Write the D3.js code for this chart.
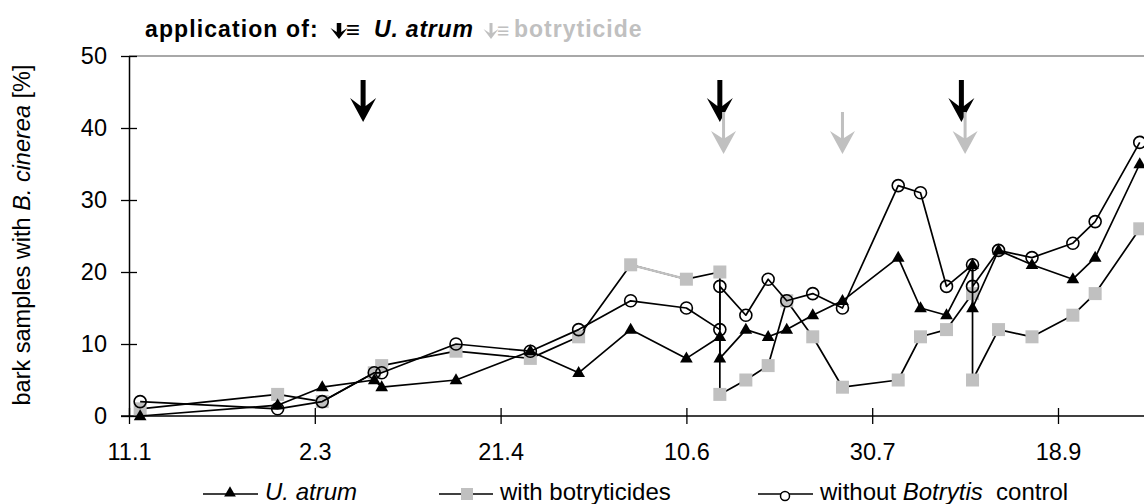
<!DOCTYPE html>
<html>
<head>
<meta charset="utf-8">
<script src="https://cdn.jsdelivr.net/npm/d3@7/dist/d3.min.js"></script>
<style>
  html, body { margin: 0; padding: 0; background: #fff; }
  svg { display: block; }
  text { font-family: "Liberation Sans", Arial, sans-serif; }
</style>
</head>
<body>
<svg id="chart" width="1144" height="504"></svg>
<script>
// Sampling dates (day.month, one season) – repeated dates carry two samples
const samplingDates = ["14.1","20.2","4.3","18.3","20.3","9.4","29.4","12.5","26.5","10.6",
  "19.6","19.6","26.6","2.7","7.7","14.7","22.7","6.8","12.8","19.8",
  "26.8","26.8","2.9","11.9","22.9","28.9","10.10"];

// Bark samples with B. cinerea [%]
const uAtrumValues       = [0,1.5,4,5,4,5,9,6,12,8, 11,8,12,11,12,14,16,22,15,14, 21,15,23,21,19,22,35];
const botryticideValues  = [1,3,2,6,7,9,8,11,21,19, 20,3,5,7,16,11,4,5,11,12, 17,5,12,11,14,17,26];
const controlValues      = [2,1,2,6,6,10,9,12,16,15, 12,18,14,19,16,17,15,32,31,18, 21,18,23,22,24,27,38];

// Segment of the botryticide line drawn in light grey (starts at this date)
const lightSegmentStart = "26.5";

// Application dates
const uAtrumApplications = ["15.3","19.6","23.8"];
const botryticideApplications = ["20.6","22.7","24.8"];

// Axis
const tickLabels = ["11.1","2.3","21.4","10.6","30.7","18.9"];
const yTicks = [0,10,20,30,40,50];

const YEAR = 2003;
const parseDate = s => d3.utcParse("%d.%m.%Y")(s + "." + YEAR);

const svg = d3.select("#chart");
const W = 1144, H = 504;

const x = d3.scaleUtc()
  .domain([parseDate("11.1"), parseDate("18.9")])
  .range([129, 1058]);
const y = d3.scaleLinear().domain([0, 50]).range([416, 56]);

const GREY = "#c0c0c0";
const font = "Liberation Sans, Arial, sans-serif";

// top frame line
svg.append("line")
  .attr("x1", 129).attr("x2", W).attr("y1", y(50)).attr("y2", y(50))
  .attr("stroke", "#a8a8a8").attr("stroke-width", 2);

// Y axis
const yAxis = svg.append("g")
  .attr("transform", `translate(${x(parseDate("11.1"))},0)`)
  .call(d3.axisLeft(y).tickValues(yTicks).tickSize(8).tickPadding(14).tickSizeOuter(0));
yAxis.select(".domain").attr("stroke", "#000").attr("stroke-width", 1.5);
yAxis.selectAll(".tick line").attr("x2", -8).attr("x1", 8).attr("stroke", "#000").attr("stroke-width", 1.3);
yAxis.selectAll(".tick text").attr("font-size", 23.5).attr("font-family", font).attr("fill", "#000");

// X axis
const xAxis = svg.append("g")
  .attr("transform", `translate(0,${y(0)})`)
  .call(d3.axisBottom(x).tickValues(tickLabels.map(parseDate))
    .tickFormat((d, i) => tickLabels[i]).tickSize(8).tickPadding(19).tickSizeOuter(0));
xAxis.select(".domain").remove();
xAxis.append("line").attr("x1", 121).attr("x2", W).attr("y1", 0).attr("y2", 0)
  .attr("stroke", "#000").attr("stroke-width", 1.5);
xAxis.selectAll(".tick line").attr("y1", -8).attr("y2", 8).attr("stroke", "#000").attr("stroke-width", 1.3);
xAxis.selectAll(".tick text").attr("font-size", 23.5).attr("font-family", font).attr("fill", "#000");

// Y axis title
const yTitle = svg.append("text")
  .attr("transform", "translate(30,235) rotate(-90)")
  .attr("text-anchor", "middle")
  .attr("font-size", 23.5).attr("fill", "#000");
yTitle.append("tspan").text("bark samples with ");
yTitle.append("tspan").attr("font-style", "italic").text("B. cinerea");
yTitle.append("tspan").text(" [%]");

// Arrow shape: shaft + notched head
function arrowPath(cx, top, tip, headW, headH, notch, shaftW) {
  const back = tip - headH;
  const hw = headW / 2, sw = shaftW / 2;
  return `M${cx - sw},${top} L${cx + sw},${top} L${cx + sw},${back + notch} L${cx + hw},${back}` +
         ` L${cx},${tip} L${cx - hw},${back} L${cx - sw},${back + notch} Z`;
}

// Title line
const title = svg.append("g").attr("font-weight", "bold");
title.append("text").attr("x", 145).attr("y", 37).attr("font-size", 23)
  .attr("letter-spacing", 1.1).attr("fill", "#000").text("application of:");
title.append("path").attr("d", arrowPath(339, 23, 39, 17, 11, 4, 4.5)).attr("fill", "#000");
title.append("text").attr("x", 346).attr("y", 38).attr("font-size", 24).attr("fill", "#000").text("≡");
title.append("text").attr("x", 374).attr("y", 37).attr("font-size", 23).attr("font-style", "italic")
  .attr("letter-spacing", 0.8).attr("fill", "#000").text("U. atrum");
title.append("path").attr("d", arrowPath(491, 23, 39, 15, 10, 4, 3)).attr("fill", GREY);
title.append("text").attr("x", 497).attr("y", 38).attr("font-size", 21).attr("fill", GREY).text("≡");
title.append("text").attr("x", 514).attr("y", 37).attr("font-size", 23)
  .attr("letter-spacing", 1).attr("fill", GREY).text("botryticide");

// Application arrows in the plot
svg.append("g").selectAll("path").data(uAtrumApplications).join("path")
  .attr("d", d => arrowPath(x(parseDate(d)), 80, 122, 26, 24, 8, 5))
  .attr("fill", "#000");
svg.append("g").selectAll("path").data(botryticideApplications).join("path")
  .attr("d", d => arrowPath(x(parseDate(d)), 112, 154, 25, 23, 7, 3))
  .attr("fill", GREY);

// Series data
const makeSeries = values => samplingDates.map((d, i) => ({ label: d, date: parseDate(d), value: values[i] }));
const botry = makeSeries(botryticideValues);
const uatrum = makeSeries(uAtrumValues);
const control = makeSeries(controlValues);

const line = d3.line().x(d => x(d.date)).y(d => y(d.value));
const LW = 1.7;

// with botryticides
svg.append("path").datum(botry).attr("d", line)
  .attr("fill", "none").attr("stroke", "#000").attr("stroke-width", LW).attr("stroke-linejoin", "round");
const li = botry.findIndex(d => d.label === lightSegmentStart);
svg.append("path").datum(botry.slice(li, li + 2)).attr("d", line)
  .attr("fill", "none").attr("stroke", GREY).attr("stroke-width", LW + 0.6);
svg.append("g").selectAll("rect").data(botry).join("rect")
  .attr("x", d => x(d.date) - 6.5).attr("y", d => y(d.value) - 6.5)
  .attr("width", 13).attr("height", 13).attr("fill", GREY);

// U. atrum
svg.append("path").datum(uatrum).attr("d", line)
  .attr("fill", "none").attr("stroke", "#000").attr("stroke-width", LW).attr("stroke-linejoin", "round");
const tri = d3.symbol().type(d3.symbolTriangle).size(70);
svg.append("g").selectAll("path").data(uatrum).join("path")
  .attr("d", tri).attr("transform", d => `translate(${x(d.date)},${y(d.value) + 0.5})`)
  .attr("fill", "#000");

// without Botrytis control
svg.append("path").datum(control).attr("d", line)
  .attr("fill", "none").attr("stroke", "#000").attr("stroke-width", LW).attr("stroke-linejoin", "round");
svg.append("g").selectAll("circle").data(control).join("circle")
  .attr("cx", d => x(d.date)).attr("cy", d => y(d.value)).attr("r", 6)
  .attr("fill", "none").attr("stroke", "#000").attr("stroke-width", 1.6);

// Legend
const legend = svg.append("g");
const legendY = 494;
function legendLine(x1, x2) {
  legend.append("line").attr("x1", x1).attr("x2", x2).attr("y1", legendY).attr("y2", legendY)
    .attr("stroke", "#000").attr("stroke-width", 1.7);
}
legendLine(203, 258);
legend.append("path").attr("d", d3.symbol().type(d3.symbolTriangle).size(60))
  .attr("transform", `translate(230,${legendY - 1})`).attr("fill", "#000");
legend.append("text").attr("x", 265).attr("y", 500).attr("font-size", 24)
  .attr("font-style", "italic").text("U. atrum");

legendLine(439, 493);
legend.append("rect").attr("x", 461).attr("y", legendY - 6).attr("width", 12).attr("height", 12).attr("fill", GREY);
legend.append("text").attr("x", 500).attr("y", 500).attr("font-size", 24).text("with botryticides");

legendLine(758, 813);
legend.append("circle").attr("cx", 785).attr("cy", legendY + 2).attr("r", 4.5)
  .attr("fill", "#fff").attr("stroke", "#000").attr("stroke-width", 1.5);
const lt = legend.append("text").attr("x", 820).attr("y", 500).attr("font-size", 24).attr("xml:space", "preserve");
lt.append("tspan").text("without ");
lt.append("tspan").attr("font-style", "italic").text("Botrytis");
lt.append("tspan").text("  control");
</script>
</body>
</html>
